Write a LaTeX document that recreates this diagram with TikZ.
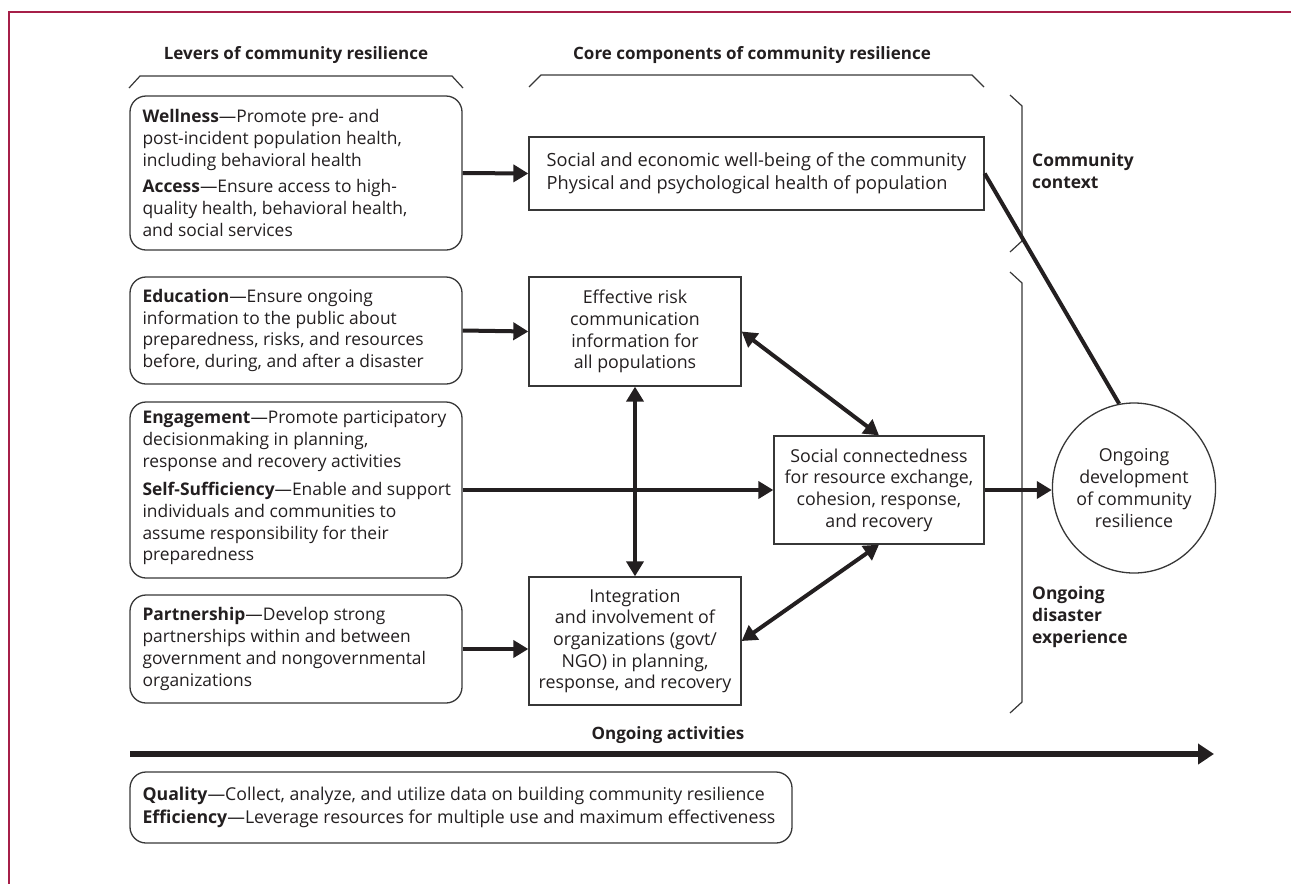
\documentclass[tikz,border=0pt]{standalone}
\usepackage{fontspec}
\setmainfont{Open Sans}
\usetikzlibrary{arrows.meta,shapes.geometric}
\definecolor{frame}{RGB}{166,31,72}
\definecolor{ink}{RGB}{35,31,32}
\definecolor{edge}{RGB}{55,55,55}
\tikzset{
 lever/.style={draw=edge, line width=1.3pt, rounded corners=16pt, minimum width=332pt, inner sep=0pt},
 corebox/.style={draw=edge, line width=1.3pt, inner sep=0pt, text=ink, align=center, font=\fontsize{17.8}{21.7}\selectfont},
 ltxt/.style={text=ink, font=\fontsize{17.4}{21.7}\selectfont, inner sep=0pt, align=left, anchor=west},
 head/.style={text=ink, font=\bfseries\fontsize{17}{21.7}\selectfont, inner sep=0pt},
 side/.style={text=ink, font=\bfseries\fontsize{17.4}{21.7}\selectfont, inner sep=0pt, align=left, anchor=west},
 brk/.style={draw=edge, line width=1.2pt},
 arr/.style={draw=ink, line width=4pt, -{Triangle[length=15pt,width=17pt]}},
 darr/.style={draw=ink, line width=4pt, {Triangle[length=15pt,width=17pt]}-{Triangle[length=15pt,width=17pt]}},
 bigarr/.style={draw=ink, line width=5.5pt, -{Triangle[length=16pt,width=20pt]}},
 plain/.style={draw=ink, line width=4pt},
}
\begin{document}
\begin{tikzpicture}[x=1pt,y=-1pt]
\useasboundingbox (0,0) rectangle (1291,884);
% frame
\draw[frame, line width=2.5pt] (1291,12) -- (9,12) -- (9,884);

% headings and brackets
\node[head] (hlev) at (296,55) {Levers of community resilience};
\node[head] (hcore) at (752,55) {Core components of community resilience};
\draw[brk] (129,88) -- (140,76) -- (452,76) -- (463,88);
\draw[brk] (529,87) -- (541,75) -- (972,75) -- (984,87);
\draw[brk] (1010,95) -- (1022,106) -- (1022,241) -- (1010,252);
\draw[brk] (1010,272) -- (1022,283) -- (1022,702) -- (1010,713);
\node[side] (ctx) at (1032,171) {Community\\context};
\node[side] (dis) at (1032,617) {Ongoing\\disaster\\experience};

% lever boxes
\node[lever, minimum height=154pt] (wel) at (296,173) {};
\node[ltxt] (welt) at ([xshift=13pt]wel.west) {\textbf{Wellness}—Promote pre- and\\
post-incident population health,\\
including behavioral health\\[5pt]
\textbf{Access}—Ensure access to high-\\
quality health, behavioral health,\\
and social services};

\node[lever, minimum height=107pt] (edu) at (296,330.5) {};
\node[ltxt] (edut) at ([xshift=13pt]edu.west) {\textbf{Education}—Ensure ongoing\\
information to the public about\\
preparedness, risks, and resources\\
before, during, and after a disaster};

\node[lever, minimum height=176pt] (eng) at (296,490) {};
\node[ltxt] (engt) at ([xshift=13pt,yshift=2pt]eng.west) {\textbf{Engagement}—Promote participatory\\
decisionmaking in planning,\\
response and recovery activities\\[7pt]
\textbf{Self-Sufficiency}—Enable and support\\
individuals and communities to\\
assume responsibility for their\\
preparedness};

\node[lever, minimum height=108pt] (par) at (296,649) {};
\node[ltxt] (part) at ([xshift=13pt]par.west) {\textbf{Partnership}—Develop strong\\
partnerships within and between\\
government and nongovernmental\\
organizations};

% core boxes
\node[corebox, font=\fontsize{18.2}{21.7}\selectfont, minimum width=455pt, minimum height=73pt] (soc) at (756.5,173.5)
 {\begin{tabular}{@{}l@{}}Social and economic well-being of the community\\[1pt]
 Physical and psychological health of population\end{tabular}};
\node[corebox, minimum width=212pt, minimum height=109pt] (risk) at (635,331.5)
 {Effective risk\\communication\\information for\\all populations};
\node[corebox, minimum width=212pt, minimum height=128pt] (integ) at (635,641)
 {Integration\\and involvement of\\organizations (govt/\\NGO) in planning,\\response, and recovery};
\node[corebox, minimum width=210pt, minimum height=108pt] (conn) at (879,490)
 {Social connectedness\\for resource exchange,\\cohesion, response,\\and recovery};
\node[corebox, ellipse, minimum width=162pt, minimum height=170pt] (circ) at (1134,488)
 {Ongoing\\development\\of community\\resilience};

% connectors
\draw[arr] (wel.east) -- (soc.west);
\draw[arr] (edu.east) -- (risk.west);
\draw[arr] (eng.east) -- (conn.west);
\draw[arr] (par.east) -- (par.east -| integ.west);
\draw[darr] (risk.south) -- (integ.north);
\draw[darr] (risk.east) -- (conn.north);
\draw[darr] (integ.east) -- (conn.south);
\draw[arr] (conn.east) -- (conn.east -| circ.west);
\draw[plain] (soc.east) -- (circ.100);

% ongoing activities
\node[head] (act) at (668,735) {Ongoing activities};
\coordinate (actL) at (130,754);
\coordinate (actR) at (1214,754);
\draw[bigarr] (actL) -- (actR);

\node[lever, minimum width=662pt, minimum height=71pt] (qual) at (461,807.5) {};
\node[ltxt, font=\fontsize{17.7}{23}\selectfont] (qualt) at ([xshift=13pt]qual.west) {\textbf{Quality}—Collect, analyze, and utilize data on building community resilience\\
\textbf{Efficiency}—Leverage resources for multiple use and maximum effectiveness};
\end{tikzpicture}
\end{document}
